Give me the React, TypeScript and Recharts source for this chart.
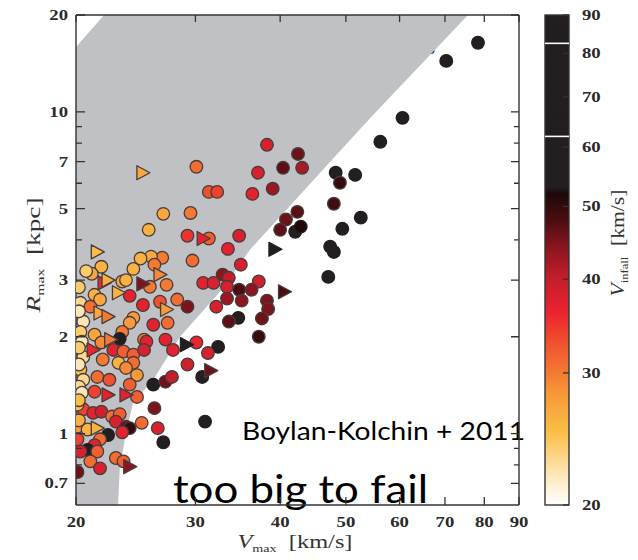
import React from "react"
import {
  ComposedChart,
  Area,
  Scatter,
  XAxis,
  YAxis,
  ReferenceArea,
  ReferenceLine,
} from "recharts"

// confidence band: lower edge of the grey region (kpc) against Vmax (km/s)
const bandVmax = [20, 22, 23.07, 23.2, 23.6, 24.27, 26, 28.47, 32.6, 36.1, 54.3, 75.7]
const bandLow = [0.6, 0.6, 0.6, 0.773, 0.958, 1.25, 1.47, 2.0, 2.76, 3.73, 9.57, 20]
const bandHigh = [15.9, 20, 20, 20, 20, 20, 20, 20, 20, 20, 20, 20]

// subhaloes drawn as circles
const circleVmax = [
  78.3, 70.3, 60.6, 56.2, 48.3, 49.0, 51.6, 48.0, 52.6, 49.4, 47.4, 48.0, 47.1,
  30.1, 38.25, 42.5, 43.1, 40.4, 37.1, 39.0, 36.4, 31.4, 32.3, 26.9, 29.5, 25.6, 29.2, 31.4, 34.8, 33.5, 29.7, 26.8, 25.8, 24.9, 35.0, 42.4, 40.8, 40.0, 42.1, 42.9,
  21.8, 24.3, 26.1, 21.1, 23.4, 25.7, 27.2, 24.0, 21.3, 21.7, 20.3, 21.0, 25.1, 26.6, 28.2, 29.2, 20.5, 24.3, 26.0, 27.3, 24.0, 23.4, 20.3, 21.3, 20.7, 23.7, 20.2, 20.2,
  32.9, 33.6, 30.8, 31.9, 33.4, 34.8, 37.2, 36.3, 35.1, 33.4, 32.2, 38.25, 38.4, 37.6, 34.7, 33.6, 37.2, 32.4, 31.3, 30.7, 31.0,
  23.2, 20.4, 21.8, 25.2, 25.4, 27.1, 30.1, 22.7, 23.5, 24.3, 25.2, 27.8, 20.5, 21.9, 23.1, 24.3, 23.7, 29.2, 20.3, 21.5, 20.5, 22.4, 24.6, 26.0, 27.1, 27.7, 24.0, 20.2, 20.2, 20.2,
  20.4, 21.3, 24.6, 26.1, 20.5, 21.2, 21.8, 20.1, 22.6, 23.2, 22.9, 23.7, 24.0, 23.4, 25.0, 26.4, 26.9, 20.1, 20.8, 22.3, 21.7, 20.1, 21.3, 20.8, 21.5, 20.3, 22.9, 23.5, 21.0, 21.7, 20.1, 20.2, 20.2,
]
const circleRmax = [
  16.4, 14.4, 9.58, 8.07, 6.47, 6.02, 6.37, 5.18, 4.69, 4.33, 3.81, 3.67, 3.07,
  6.75, 7.9, 7.4, 6.7, 6.7, 6.47, 5.77, 5.56, 5.64, 5.64, 4.82, 4.85, 4.3, 4.12, 4.04, 4.12, 3.75, 3.45, 3.52, 3.55, 3.5, 3.35, 4.89, 4.63, 4.3, 4.24, 4.4,
  3.3, 3.25, 3.35, 3.14, 2.97, 2.86, 2.9, 2.68, 2.7, 2.61, 2.55, 2.48, 2.51, 2.57, 2.61, 2.48, 2.23, 2.29, 2.18, 2.21, 2.21, 2.07, 2.07, 2.03, 3.2, 3.0, 2.85, 2.4,
  3.12, 3.05, 2.94, 2.94, 2.86, 2.8, 2.97, 2.8, 2.59, 2.63, 2.48, 2.59, 2.44, 2.28, 2.29, 2.23, 2.0, 1.86, 1.78, 1.5, 1.09,
  1.97, 1.93, 1.92, 1.96, 1.93, 1.96, 1.92, 1.82, 1.8, 1.76, 1.82, 1.82, 1.73, 1.7, 1.66, 1.66, 1.6, 1.64, 1.58, 1.5, 1.47, 1.47, 1.52, 1.42, 1.45, 1.5, 1.42, 1.85, 1.64, 1.4,
  1.34, 1.35, 1.3, 1.2, 1.19, 1.16, 1.17, 1.23, 1.13, 1.15, 1.09, 1.05, 1.04, 1.01, 1.08, 1.04, 0.94, 1.05, 1.03, 0.99, 0.96, 0.96, 0.92, 0.89, 0.88, 0.88, 0.84, 0.82, 0.82, 0.78, 0.76, 1.27, 1.1,
]
const circleVinfall = [
  60, 60, 60, 60, 58, 50, 60, 49, 60, 58, 58, 58, 56,
  31, 38, 46, 42, 47, 38, 43, 37, 33, 34, 27, 30, 26, 35, 32, 38, 37, 31, 30, 27, 26, 38, 47, 46, 47, 56, 52,
  26, 26, 30, 27, 27, 30, 30, 37, 26, 27, 23, 31, 37, 33, 31, 45, 22, 28, 37, 31, 28, 30, 24, 27, 24, 26, 24, 22,
  44, 40, 37, 38, 38, 48, 39, 44, 44, 43, 38, 45, 45, 46, 53, 47, 50, 54, 38, 53, 55,
  53, 22, 29, 30, 37, 37, 36, 37, 32, 32, 38, 37, 23, 30, 26, 31, 29, 39, 25, 31, 23, 33, 28, 55, 46, 40, 32, 24, 22, 23,
  22, 34, 32, 45, 34, 37, 39, 25, 31, 32, 38, 46, 50, 37, 31, 38, 55, 28, 26, 54, 31, 34, 37, 54, 32, 38, 31, 32, 31, 38, 46, 25, 26,
]

// subhaloes drawn as right-pointing triangles
const triVmax = [25.1, 30.8, 39.3, 21.5, 26.6, 22.0, 25.1, 23.1, 27.2, 21.7, 22.3, 22.5, 29.1, 21.2, 31.6, 40.6, 22.3, 23.7, 21.5, 24.0, 22.3]
const triRmax = [6.47, 4.04, 3.74, 3.67, 3.12, 2.94, 2.92, 2.74, 2.43, 2.37, 2.31, 1.96, 1.89, 1.82, 1.57, 2.76, 1.32, 1.32, 1.04, 0.79, 3.0]
const triVinfall = [27, 37, 56, 25, 29, 36, 45, 26, 28, 27, 30, 30, 55, 36, 46, 48, 37, 37, 26, 44, 26]

const xTicks = [20, 30, 40, 50, 60, 70, 80, 90]
const yTicks = [0.7, 0.8, 0.9, 1, 2, 3, 4, 5, 6, 7, 8, 9, 10, 20]
const yLabelled = [0.7, 1, 2, 3, 5, 7, 10, 20]
const cbarTicks = [20, 30, 40, 50, 60, 70, 80, 90]
const cbarMarks = [62, 82.5]

// colour map for V_infall
const cmapStops = [20, 22, 25, 28, 30, 33, 36, 40, 44, 48, 52, 53, 90]
const cmapColors = [
  "#ffffff", "#fde6b5", "#fbbd45", "#f89a3a", "#f47a33", "#f0502e",
  "#ec2430", "#c41e2c", "#8c1620", "#4c0d12", "#1e0909", "#231f20", "#231f20",
]

const hexRgb = (h: string) => [1, 3, 5].map((i) => parseInt(h.slice(i, i + 2), 16))

function vinfallColor(v: number) {
  if (v <= cmapStops[0]) return cmapColors[0]
  for (let i = 1; i < cmapStops.length; i++) {
    if (v <= cmapStops[i]) {
      const t = (v - cmapStops[i - 1]) / (cmapStops[i] - cmapStops[i - 1])
      const a = hexRgb(cmapColors[i - 1])
      const b = hexRgb(cmapColors[i])
      const c = a.map((x, k) => Math.round(x + (b[k] - x) * t))
      return `rgb(${c[0]},${c[1]},${c[2]})`
    }
  }
  return cmapColors[cmapColors.length - 1]
}

const bandData = bandVmax.map((v, i) => ({ v, band: [bandLow[i], bandHigh[i]] }))
const circles = circleVmax.map((v, i) => ({ v, r: circleRmax[i], vin: circleVinfall[i] }))
const triangles = triVmax.map((v, i) => ({ v, r: triRmax[i], vin: triVinfall[i] }))
// hidden point that ties the colour-bar axis to a series
const cbarAnchor = [{ v: 30, vin: 30 }]

// colour bar drawn as thin overlapping slices
const cbarSlices: { lo: number; hi: number; color: string }[] = []
for (let lo = 20; lo < 90; lo += 0.25) {
  cbarSlices.push({ lo, hi: Math.min(lo + 0.6, 90), color: vinfallColor(lo + 0.125) })
}

// layout
const W = 638
const H = 560
const MARGIN = { top: 15, right: 69, bottom: 0, left: 0 }
const Y_AXIS_W = 76
const X_AXIS_H = 55
const CBAR_AXIS_W = 50
const PLOT_W = W - MARGIN.left - MARGIN.right - Y_AXIS_W - CBAR_AXIS_W
const PLOT_H = H - MARGIN.top - MARGIN.bottom - X_AXIS_H
const CBAR_GAP = 26
const CBAR_W = 24

const AXIS_COLOR = "#333333"
const SERIF = "'Liberation Serif', 'Times New Roman', serif"
const SANS = "Lato, 'Open Sans', sans-serif"

const markerStroke = (vin: number) => (vin >= 52 ? "#231f20" : "#463c3c")

const CircleMarker = (props: any) => {
  const { cx, cy, payload } = props
  return (
    <circle cx={cx} cy={cy} r={6.3} fill={vinfallColor(payload.vin)}
      stroke={markerStroke(payload.vin)} strokeWidth={1.3} />
  )
}

const TriangleMarker = (props: any) => {
  const { cx, cy, payload } = props
  return (
    <polygon
      points={`${cx - 6},${cy - 7} ${cx + 7},${cy} ${cx - 6},${cy + 7}`}
      fill={vinfallColor(payload.vin)} stroke={markerStroke(payload.vin)} strokeWidth={1.3}
      strokeLinejoin="round" />
  )
}

const Hidden = () => <g />

const TickText = ({ x, y, anchor, children }: any) => (
  <text transform={`translate(${x},${y}) scale(1.25,1)`} textAnchor={anchor}
    fontFamily={SERIF} fontWeight="bold" fontSize={15} fill="#2a2a2a">
    {children}
  </text>
)

// x ticks: inward marks on the bottom and top edges of the frame
const BottomTick = ({ x, y, payload }: any) => (
  <g>
    <path d={`M${x},${y} V${y - 8} M${x},${y - PLOT_H} V${y - PLOT_H + 7}`}
      stroke={AXIS_COLOR} strokeWidth={1.3} fill="none" />
    <TickText x={x} y={y + 22} anchor="middle">{payload.value}</TickText>
  </g>
)

// y ticks: inward marks on the left and right edges, labels only on the majors
const LeftTick = ({ x, y, payload }: any) => {
  const major = yLabelled.includes(payload.value)
  const right = x + PLOT_W
  return (
    <g>
      <path d={`M${x},${y} H${x + (major ? 9 : 6)} M${right},${y} H${right - (major ? 8 : 5)}`}
        stroke={AXIS_COLOR} strokeWidth={1.3} fill="none" />
      {major && <TickText x={x - 8} y={y + 5} anchor="end">{payload.value}</TickText>}
    </g>
  )
}

const CbarLabel = ({ x, y, payload }: any) => (
  <TickText x={x + CBAR_GAP + CBAR_W + 13} y={y + 5} anchor="start">{payload.value}</TickText>
)

const plotRight = (p: any) => Math.max(p.x1, p.x2)

const CbarSlice = (props: any) => (
  <rect x={props.x + props.width + CBAR_GAP} y={props.y} width={CBAR_W} height={props.height}
    fill={props.fill} />
)

const CbarFrame = (props: any) => (
  <rect x={props.x + props.width + CBAR_GAP} y={props.y} width={CBAR_W} height={props.height}
    fill="none" stroke={AXIS_COLOR} strokeWidth={1.4} />
)

const CbarMark = (props: any) => (
  <path d={`M${plotRight(props) + CBAR_GAP},${props.y1} H${plotRight(props) + CBAR_GAP + CBAR_W}`}
    stroke="#fff" strokeWidth={1.6} fill="none" />
)

const CbarTickMark = (props: any) => {
  const edge = plotRight(props) + CBAR_GAP + CBAR_W
  return <path d={`M${edge},${props.y1} H${edge - 6}`} stroke={AXIS_COLOR} strokeWidth={1.3} fill="none" />
}

const Annotations = () => (
  <g>
    <text x={105} y={54} fontFamily={SERIF} fontWeight="bold" fontSize={20}
      textLength={330} lengthAdjust="spacingAndGlyphs" fill="#2b2b2b">
      bright MW dwarf spheroidals
    </text>
    <text x={103} y={80} fontFamily={SERIF} fontWeight="bold" fontSize={20}
      textLength={194} lengthAdjust="spacingAndGlyphs" fill="#2b2b2b">
      (95.4% confidence)
    </text>

    <text transform="translate(40,255) rotate(-90)" textAnchor="middle" fontFamily={SERIF}
      fontSize={19} fill="#333" textLength={115} lengthAdjust="spacingAndGlyphs">
      <tspan fontStyle="italic">R</tspan>
      <tspan fontSize={11} dy={4}>max</tspan>
      <tspan dy={-4}>{"\u2002[kpc]"}</tspan>
    </text>
    <text x={295} y={548} textAnchor="middle" fontFamily={SERIF} fontSize={19} fill="#333"
      textLength={115} lengthAdjust="spacingAndGlyphs">
      <tspan fontStyle="italic">V</tspan>
      <tspan fontSize={11} dy={4}>max</tspan>
      <tspan dy={-4}>{"\u2002[km/s]"}</tspan>
    </text>
    <text transform="translate(624,243) rotate(-90)" textAnchor="middle" fontFamily={SERIF}
      fontSize={19} fill="#333" textLength={107} lengthAdjust="spacingAndGlyphs">
      <tspan fontStyle="italic">V</tspan>
      <tspan fontSize={11} dy={4}>infall</tspan>
      <tspan dy={-4}>{"\u2002[km/s]"}</tspan>
    </text>

    <text x={242} y={440} fontFamily={SANS} fontSize={25} fill="#000"
      textLength={283} lengthAdjust="spacingAndGlyphs">
      Boylan-Kolchin + 2011
    </text>
    <text x={173} y={503} fontFamily={SANS} fontSize={38} fill="#000"
      textLength={255} lengthAdjust="spacingAndGlyphs">
      too big to fail
    </text>
  </g>
)

const axisLine = { stroke: AXIS_COLOR, strokeWidth: 1.4 }

export default function App() {
  return (
    <div style={{ position: "relative", width: W, height: H, margin: "-8px 0 0 -8px", background: "#fff" }}>
      <div style={{ position: "absolute", left: 0, top: 0, width: W, height: 7, background: "#000" }} />
      <div style={{ position: "absolute", left: 0, top: 0, width: 7, height: H, background: "#000" }} />

      <ComposedChart width={W} height={H} data={bandData} margin={MARGIN}>
        <Area dataKey="band" type="linear" stroke="none" fill="#c0c1c4" fillOpacity={1}
          dot={false} activeDot={false} isAnimationActive={false} />
        <Scatter data={circles} dataKey="r" shape={CircleMarker} isAnimationActive={false} />
        <Scatter data={triangles} dataKey="r" shape={TriangleMarker} isAnimationActive={false} />
        <Scatter data={cbarAnchor} dataKey="vin" yAxisId="cb" shape={Hidden} isAnimationActive={false} />

        <ReferenceLine y={20} stroke={AXIS_COLOR} strokeWidth={1.4} ifOverflow="visible" />
        <ReferenceLine x={90} stroke={AXIS_COLOR} strokeWidth={1.4} ifOverflow="visible" />

        {cbarSlices.map((s) => (
          <ReferenceArea key={s.lo} yAxisId="cb" y1={s.lo} y2={s.hi} fill={s.color}
            ifOverflow="visible" shape={CbarSlice} />
        ))}
        {cbarMarks.map((m) => (
          <ReferenceLine key={`m${m}`} yAxisId="cb" y={m} ifOverflow="visible" shape={CbarMark} />
        ))}
        {cbarTicks.map((t) => (
          <ReferenceLine key={`t${t}`} yAxisId="cb" y={t} ifOverflow="visible" shape={CbarTickMark} />
        ))}
        <ReferenceArea yAxisId="cb" y1={20} y2={90} ifOverflow="visible" shape={CbarFrame} />

        <XAxis dataKey="v" type="number" scale="log" domain={[20, 90]} allowDataOverflow
          ticks={xTicks} interval={0} height={X_AXIS_H} tickSize={0} tickMargin={0}
          axisLine={axisLine} tickLine={false} tick={BottomTick} />
        <YAxis dataKey="r" type="number" scale="log" domain={[0.6, 20]} allowDataOverflow
          ticks={yTicks} interval={0} width={Y_AXIS_W} tickSize={0} tickMargin={0}
          axisLine={axisLine} tickLine={false} tick={LeftTick} />
        <YAxis yAxisId="cb" dataKey="vin" orientation="right" type="number" scale="log"
          domain={[20, 90]} allowDataOverflow ticks={cbarTicks} interval={0} width={CBAR_AXIS_W}
          tickSize={0} tickMargin={0} axisLine={false} tickLine={false} tick={CbarLabel} />

        <Annotations />
      </ComposedChart>
    </div>
  )
}
